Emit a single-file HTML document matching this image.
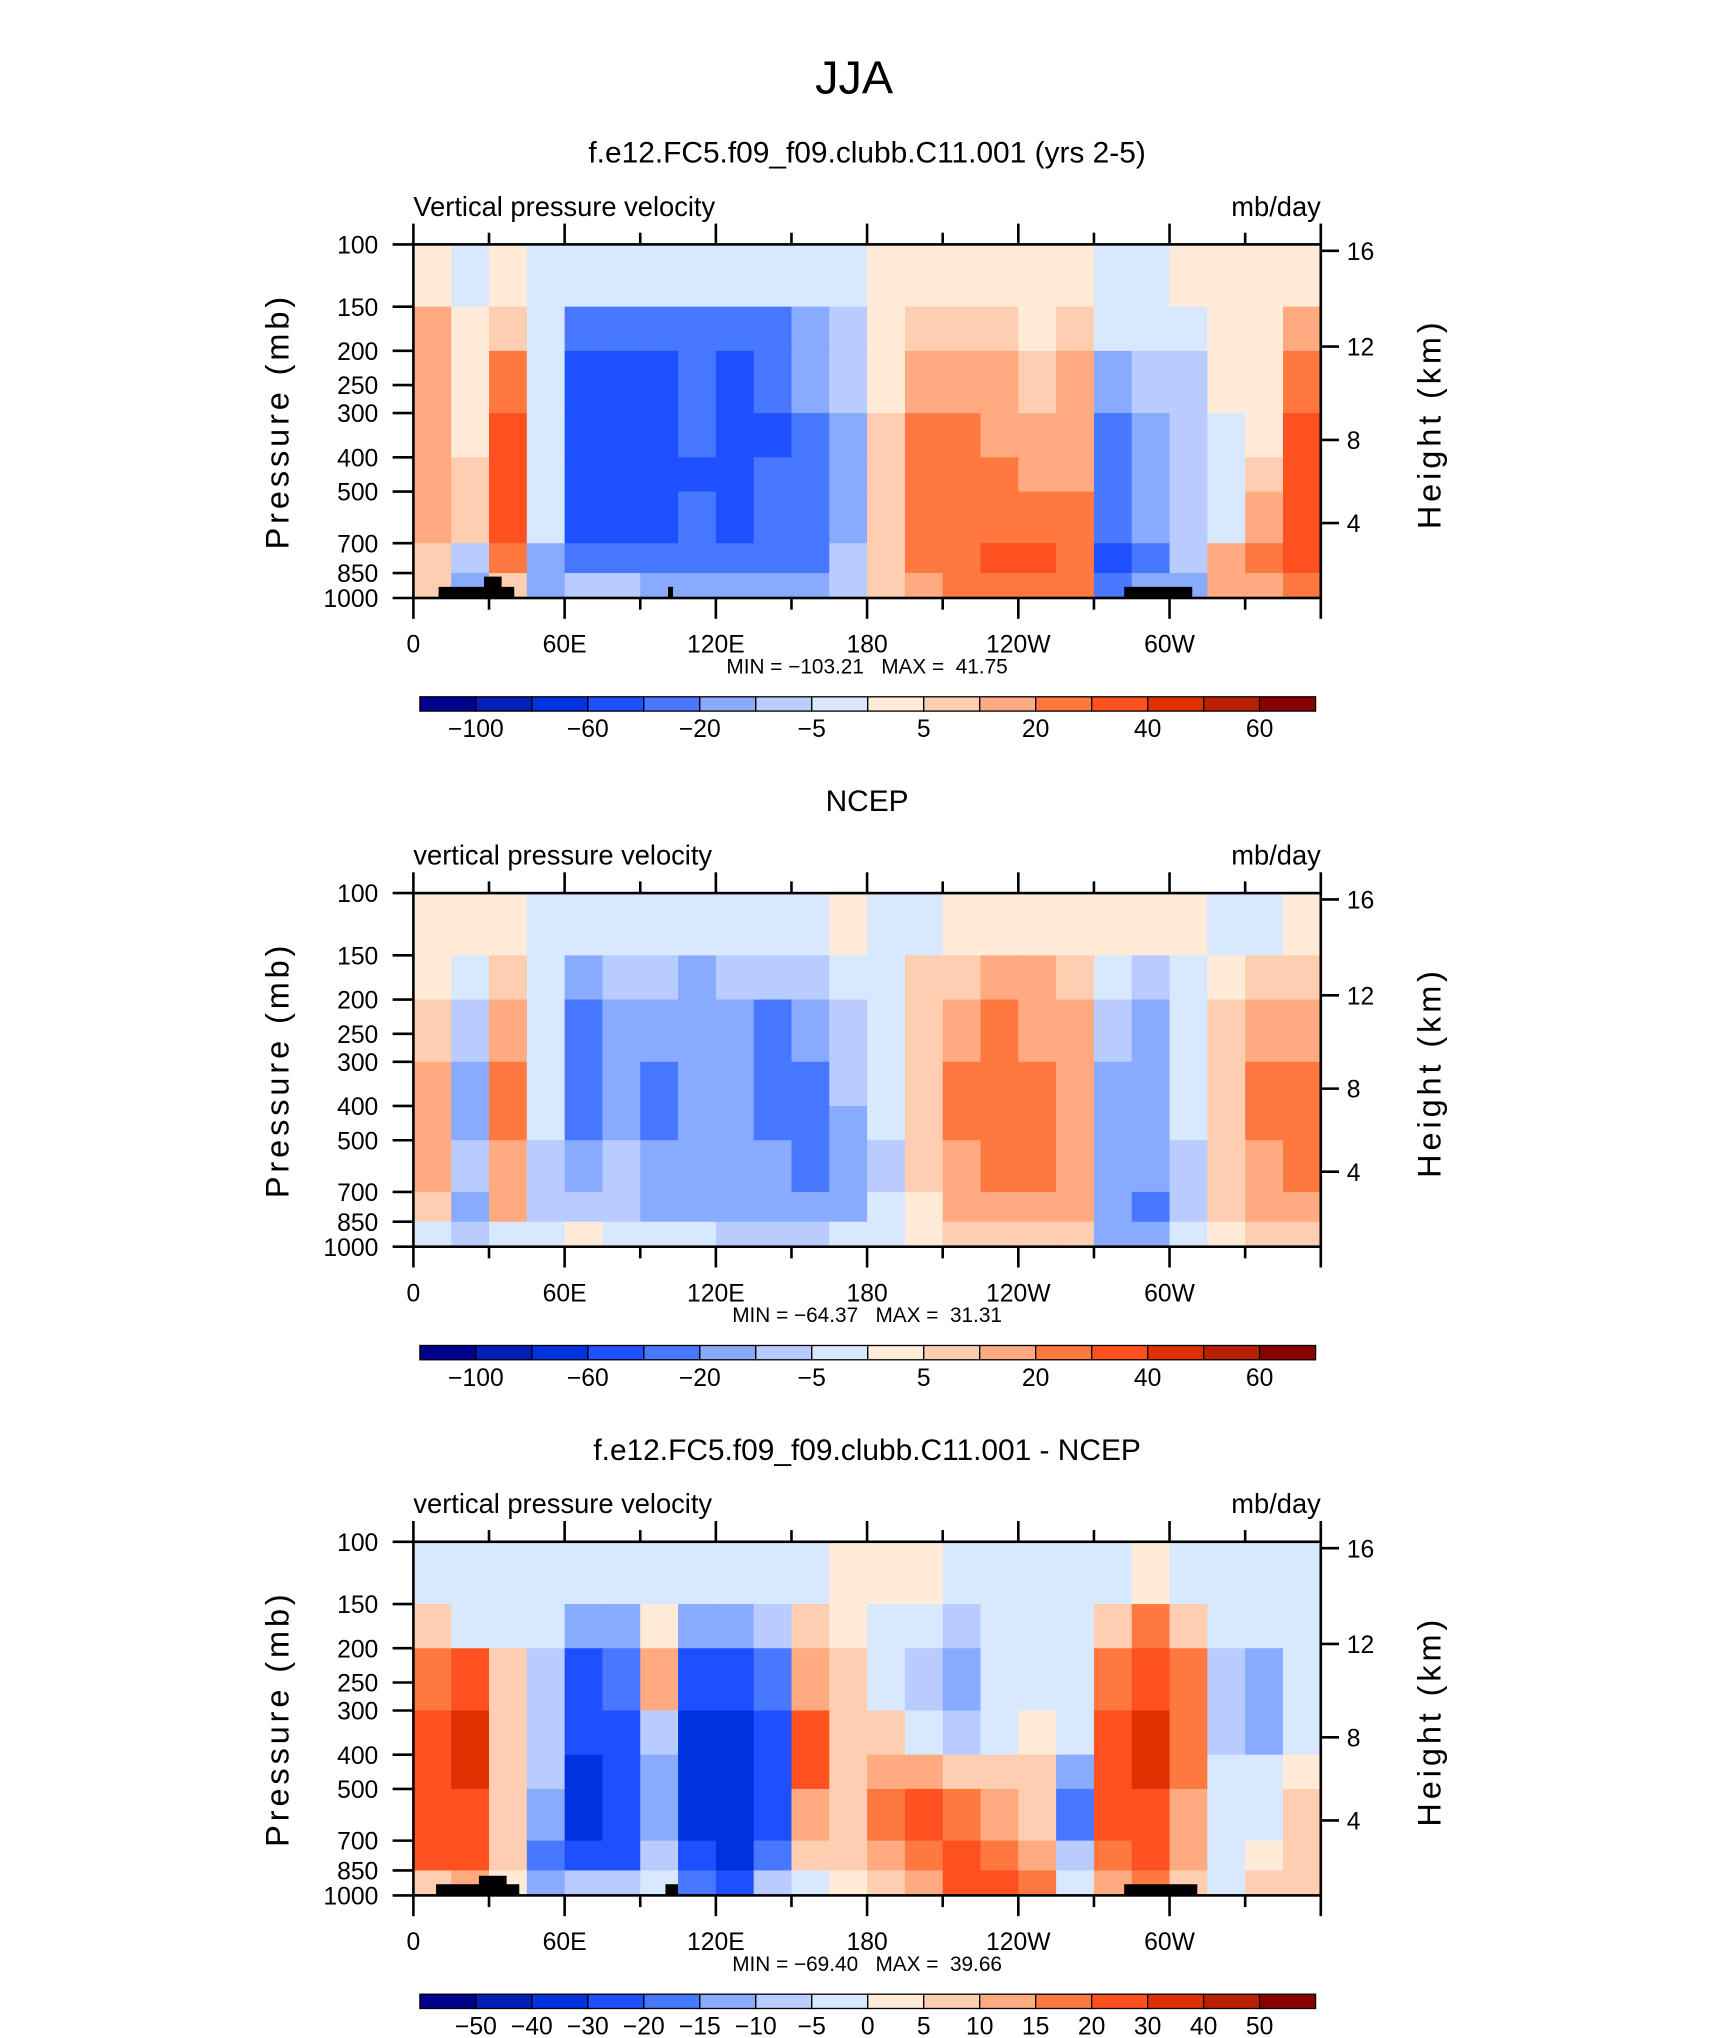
<!DOCTYPE html>
<html><head><meta charset="utf-8"><style>
html,body{margin:0;padding:0;background:#fff}
svg{display:block}
text{font-family:"Liberation Sans",sans-serif;fill:#000}
</style></head><body>
<svg id="fig" width="1710" height="2038" viewBox="0 0 1315.4 1567.7" preserveAspectRatio="none" xmlns="http://www.w3.org/2000/svg">
<text x="657" y="72" font-size="36" text-anchor="middle" font-weight="300">JJA</text>
</svg>
<script>
// ---------- data ----------
const lonTicks = ["0","60E","120E","180","120W","60W"];
const presLevels = [100,150,200,250,300,400,500,700,850,1000];
const rowBounds = [100,150,200,300,400,500,700,850,1000];
const heightTicks = [16,12,8,4];
const heightFrac = [0.018,0.289,0.553,0.788];
const levels12 = [-100,-80,-60,-40,-20,-10,-5,0,5,10,20,30,40,50,60];
const labels12 = ["-100","-60","-20","-5","5","20","40","60"];
const levels3 = [-50,-40,-30,-20,-15,-10,-5,0,5,10,15,20,30,40,50];
const labels3 = ["-50","-40","-30","-20","-15","-10","-5","0","5","10","15","20","30","40","50"];
const colors = ["#00008e","#0020b8","#0032e0","#1e50ff","#4878ff","#88aaff","#b8ccff","#d8e8ff","#ffebd8","#ffcdb0","#ffaa80","#ff7840","#ff5020","#e03000","#b82000","#8a0000"];
// 24 longitude columns (15 deg) x 8 pressure bands
const model = [
[3,-3,3,-3,-3,-3,-3,-3,-3,-3,-3,-3,3,3,3,3,3,3,-3,-3,3,3,3,3],
[12,3,8,-3,-25,-30,-30,-25,-30,-25,-15,-8,3,7,7,6,4,7,-5,-5,-3,3,3,12],
[15,4,25,-4,-50,-45,-45,-30,-45,-40,-20,-10,4,15,15,12,8,10,-15,-10,-8,3,4,20],
[15,4,30,-5,-50,-45,-45,-40,-50,-45,-25,-12,5,25,25,15,10,12,-25,-15,-10,-5,4,30],
[18,5,30,-5,-45,-45,-50,-45,-50,-40,-25,-12,5,20,25,25,15,15,-30,-15,-10,-5,5,30],
[15,6,30,-5,-45,-45,-45,-40,-45,-40,-25,-12,5,25,25,25,22,20,-35,-20,-10,-5,10,30],
[8,-10,25,-20,-25,-25,-25,-30,-35,-35,-25,-10,8,22,28,35,35,25,-50,-25,-10,10,20,30],
[5,-15,5,-20,-10,-10,-15,-15,-20,-20,-15,-8,5,15,25,25,25,20,-40,-20,-15,15,10,20]];
const ncep = [
[3,3,3,-3,-3,-5,-3,-5,-3,-5,-3,3,-3,-3,3,3,3,3,3,3,3,-3,-3,3],
[4,-3,5,-5,-12,-8,-10,-12,-8,-10,-8,-5,-3,5,8,10,10,5,-5,-8,-3,3,5,8],
[8,-10,15,-5,-25,-15,-20,-15,-20,-25,-20,-8,-3,5,15,20,15,10,-10,-15,-5,5,10,15],
[15,-15,20,-5,-30,-20,-25,-15,-20,-30,-30,-10,-3,8,20,25,20,10,-15,-20,-5,8,20,25],
[15,-15,20,-5,-25,-15,-25,-20,-15,-25,-30,-12,-5,5,20,25,25,15,-20,-20,-5,8,20,25],
[10,-10,15,-10,-20,-10,-20,-20,-15,-20,-25,-15,-8,5,15,20,20,15,-15,-20,-10,5,15,20],
[5,-15,10,-10,-8,-10,-15,-15,-15,-15,-20,-15,-5,3,10,15,15,10,-20,-25,-10,5,10,15],
[-3,-8,-5,-3,3,-5,-5,-5,-10,-10,-10,-5,-3,3,5,8,8,5,-15,-15,-5,3,5,8]];
const diff = [
[-3,-3,-3,-3,-5,-5,-5,-5,-5,-3,-3,3,3,3,-3,-3,-3,-3,-3,3,-3,-3,-3,-3],
[5,-5,-3,-5,-15,-15,0,-15,-15,-10,8,3,-3,-5,-8,-3,-3,-5,5,15,8,-5,-5,-3],
[15,20,5,-8,-25,-20,10,-30,-30,-20,12,5,-5,-10,-15,-5,-3,-5,15,25,15,-10,-15,-3],
[20,30,5,-10,-30,-25,-10,-35,-40,-25,25,8,5,-5,-10,-3,3,-5,20,30,15,-10,-15,-3],
[25,30,5,-10,-35,-30,-15,-35,-40,-25,20,8,12,10,5,5,5,-15,20,30,15,-5,-5,3],
[25,25,8,-15,-35,-30,-15,-35,-40,-25,10,5,15,20,15,10,8,-20,20,25,10,-5,-3,5],
[20,20,5,-20,-25,-25,-10,-30,-40,-20,5,5,10,15,20,15,10,-10,15,20,10,-5,3,8],
[5,10,3,-15,-10,-10,-5,-20,-25,-10,-3,3,5,10,20,20,15,-5,10,15,5,-5,5,8]];
const minmax1 = ["-103.21","41.75"], minmax2 = ["-64.37","31.31"], minmax3 = ["-69.40","39.66"];

// ---------- drawing ----------
const NS = "http://www.w3.org/2000/svg";
const svg = document.getElementById('fig');
const L = 318, R = 1016, H = 272;
function mk(tag, attrs, parent){const e=document.createElementNS(NS,tag);for(const k in attrs)e.setAttribute(k,attrs[k]);(parent||svg).appendChild(e);return e;}
function xScale(lon){return L+(R-L)*lon/360;}
function colorFor(v,lev){let i=0;while(i<lev.length&&v>=lev[i])i++;return colors[i];}

function panel(top, title, subtitle, data, lev, labs, mm, topo){
  const yScale = p => top + H*Math.log(p/100)/Math.log(10);
  const t = mk('text',{x:667,y:top-63,'font-size':23,'text-anchor':'middle'}); t.textContent=title;
  
  
  const s1 = mk('text',{x:L,y:top-22,'font-size':21}); s1.textContent=subtitle;
  
  
  const s2 = mk('text',{x:R,y:top-22,'font-size':21,'text-anchor':'end'}); s2.textContent="mb/day";
  
  
  const g = mk('g',{});  
  const nc = data[0].length;
  data.forEach((row,r)=>{
    const y0=yScale(rowBounds[r]), y1=yScale(rowBounds[r+1]);
    row.forEach((v,c)=>{
      const x0=xScale(c*360/nc), x1=xScale((c+1)*360/nc);
      const cell=mk('rect',{x:x0,y:y0,width:x1-x0+0.6,height:y1-y0+0.6,fill:colorFor(v,lev)},g);
      
      
    });
  });
  (topo||[]).forEach(b=>{const tr=mk('rect',{x:xScale(b[0]),y:yScale(b[2]),width:xScale(b[1])-xScale(b[0]),height:top+H-yScale(b[2]),fill:'#000'});
    
    });
  const fr=mk('rect',{x:L,y:top,width:R-L,height:H,fill:'none',stroke:'#000','stroke-width':2});
  
  
  for(let lon=0;lon<=360;lon+=30){
    const x=xScale(lon), len= lon%60===0?16:9;
    mk('line',{x1:x,x2:x,y1:top,y2:top-len,stroke:'#000','stroke-width':2});
    mk('line',{x1:x,x2:x,y1:top+H,y2:top+H+len,stroke:'#000','stroke-width':2});
  }
  lonTicks.forEach((lb,i)=>{const tx=mk('text',{x:xScale(i*60),y:top+314,'font-size':19,'text-anchor':'middle'});tx.textContent=lb;
    
    });
  presLevels.forEach(p=>{const y=yScale(p);
    mk('line',{x1:L,x2:L-16,y1:y,y2:y,stroke:'#000','stroke-width':2});
    const tx=mk('text',{x:291,y:y+7,'font-size':19,'text-anchor':'end'});tx.textContent=p;
    
    });
  heightTicks.forEach((h,i)=>{const y=top+H*heightFrac[i];
    mk('line',{x1:R,x2:R+14,y1:y,y2:y,stroke:'#000','stroke-width':2});
    const tx=mk('text',{x:1036,y:y+7,'font-size':19});tx.textContent=h;
    
    });
  const yt=mk('text',{x:0,y:0,'font-size':25,'text-anchor':'middle','letter-spacing':'3',transform:`translate(222 ${top+136}) rotate(-90)`});yt.textContent="Pressure (mb)";
  
  
  const ht=mk('text',{x:0,y:0,'font-size':25,'text-anchor':'middle','letter-spacing':'3',transform:`translate(1108 ${top+138}) rotate(-90)`});ht.textContent="Height (km)";
  
  
  const m=mk('text',{x:667,y:top+330,'font-size':16,'text-anchor':'middle'});m.textContent=`MIN = ${mm[0].replace('-','\u2212')}\u00a0\u00a0\u00a0MAX =\u00a0\u00a0${mm[1]}`;
  
  
  const cb=mk('g',{});  
  const cx0=323, cw=(1012-323)/16, cy=top+348;
  colors.forEach((c,i)=>mk('rect',{x:cx0+i*cw,y:cy,width:cw,height:11,fill:c,stroke:'#000','stroke-width':1},cb));
  const step = labs.length===8?2:1;
  labs.forEach((lb,i)=>{const bi = step===2? 1+2*i : 1+i;
    const tx=mk('text',{x:cx0+bi*cw,y:top+379,'font-size':19,'text-anchor':'middle'},cb);tx.textContent=lb.replace('-','\u2212');
    
    });
}
panel(188,"f.e12.FC5.f09_f09.clubb.C11.001 (yrs 2-5)","Vertical pressure velocity",model,levels12,labels12,minmax1,
  [[10,40,930],[28,35,870],[101,103,930],[282,309,930]]);
panel(687,"NCEP","vertical pressure velocity",ncep,levels12,labels12,minmax2,[]);
panel(1186,"f.e12.FC5.f09_f09.clubb.C11.001 - NCEP","vertical pressure velocity",diff,levels3,labels3,minmax3,
  [[9,42,930],[26,37,880],[100,105,930],[282,311,930]]);
</script>
</body></html>
